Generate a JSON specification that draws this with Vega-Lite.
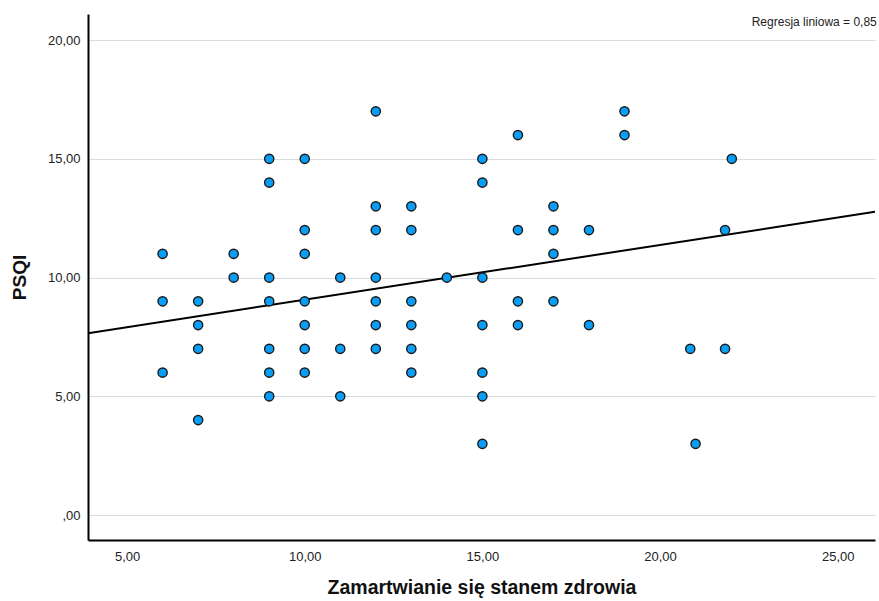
{
  "$schema": "https://vega.github.io/schema/vega-lite/v6.json",
  "width": 787,
  "height": 526,
  "autosize": {"type": "none"},
  "padding": {"left": 88, "top": 14, "right": 4, "bottom": 61},
  "background": "white",
  "config": {
    "view": {"stroke": null},
    "font": "Liberation Sans"
  },
  "datasets": {
    "points": [
      {"x": 6, "y": 11}, {"x": 6, "y": 9}, {"x": 6, "y": 6},
      {"x": 7, "y": 9}, {"x": 7, "y": 8}, {"x": 7, "y": 7}, {"x": 7, "y": 4},
      {"x": 8, "y": 11}, {"x": 8, "y": 10},
      {"x": 9, "y": 15}, {"x": 9, "y": 14}, {"x": 9, "y": 10}, {"x": 9, "y": 9}, {"x": 9, "y": 7}, {"x": 9, "y": 6}, {"x": 9, "y": 5},
      {"x": 10, "y": 15}, {"x": 10, "y": 12}, {"x": 10, "y": 11}, {"x": 10, "y": 9}, {"x": 10, "y": 8}, {"x": 10, "y": 7}, {"x": 10, "y": 6},
      {"x": 11, "y": 10}, {"x": 11, "y": 7}, {"x": 11, "y": 5},
      {"x": 12, "y": 17}, {"x": 12, "y": 13}, {"x": 12, "y": 12}, {"x": 12, "y": 10}, {"x": 12, "y": 9}, {"x": 12, "y": 8}, {"x": 12, "y": 7},
      {"x": 13, "y": 13}, {"x": 13, "y": 12}, {"x": 13, "y": 9}, {"x": 13, "y": 8}, {"x": 13, "y": 7}, {"x": 13, "y": 6},
      {"x": 14, "y": 10},
      {"x": 15, "y": 15}, {"x": 15, "y": 14}, {"x": 15, "y": 10}, {"x": 15, "y": 8}, {"x": 15, "y": 6}, {"x": 15, "y": 5}, {"x": 15, "y": 3},
      {"x": 16, "y": 16}, {"x": 16, "y": 12}, {"x": 16, "y": 9}, {"x": 16, "y": 8},
      {"x": 17, "y": 13}, {"x": 17, "y": 12}, {"x": 17, "y": 11}, {"x": 17, "y": 9},
      {"x": 18, "y": 12}, {"x": 18, "y": 8},
      {"x": 19, "y": 17}, {"x": 19, "y": 16},
      {"x": 20.85, "y": 7},
      {"x": 21.0, "y": 3},
      {"x": 21.83, "y": 12}, {"x": 21.83, "y": 7},
      {"x": 22.02, "y": 15}
    ],
    "fit": [
      {"x": 3.9, "y": 7.66},
      {"x": 26.05, "y": 12.77}
    ],
    "note": [
      {"label": "Regresja liniowa = 0,85"}
    ]
  },
  "layer": [
    {
      "data": {"name": "fit"},
      "mark": {"type": "line", "color": "black", "strokeWidth": 2, "clip": true},
      "encoding": {
        "x": {
          "field": "x", "type": "quantitative",
          "scale": {"domain": [3.9, 26.05], "nice": false, "zero": false},
          "axis": {
            "values": [5, 10, 15, 20, 25],
            "labelExpr": "replace(format(datum.value, '.2f'), '.', ',')",
            "grid": false,
            "ticks": false,
            "domainColor": "black",
            "domainWidth": 2,
            "labelFontSize": 13,
            "labelColor": "#222",
            "labelPadding": 10,
            "title": "Zamartwianie się stanem zdrowia",
            "titleFontSize": 19.5,
            "titleFontWeight": "bold",
            "titleColor": "#111",
            "titlePadding": 15
          }
        },
        "y": {
          "field": "y", "type": "quantitative",
          "scale": {"domain": [-1.05, 21.1], "nice": false, "zero": false},
          "axis": {
            "values": [0, 5, 10, 15, 20],
            "labelExpr": "datum.value == 0 ? ',00' : replace(format(datum.value, '.2f'), '.', ',')",
            "grid": true,
            "gridColor": "#d6dcdf",
            "gridWidth": 1.2,
            "ticks": false,
            "domainColor": "black",
            "domainWidth": 2,
            "labelFontSize": 13,
            "labelColor": "#222",
            "labelPadding": 8,
            "title": "PSQI",
            "titleFontSize": 19,
            "titleFontWeight": "bold",
            "titleColor": "#111",
            "titlePadding": 18
          }
        }
      }
    },
    {
      "data": {"name": "points"},
      "mark": {"type": "point", "filled": true, "shape": "circle", "size": 85, "fill": "#0a9df5", "stroke": "#1a1a1a", "strokeWidth": 1.4, "opacity": 1},
      "encoding": {
        "x": {"field": "x", "type": "quantitative"},
        "y": {"field": "y", "type": "quantitative"}
      }
    },
    {
      "data": {"name": "note"},
      "mark": {"type": "text", "align": "right", "baseline": "middle", "fontSize": 12, "color": "#222"},
      "encoding": {
        "x": {"datum": 26.1},
        "y": {"datum": 20.75},
        "text": {"field": "label"}
      }
    }
  ]
}
